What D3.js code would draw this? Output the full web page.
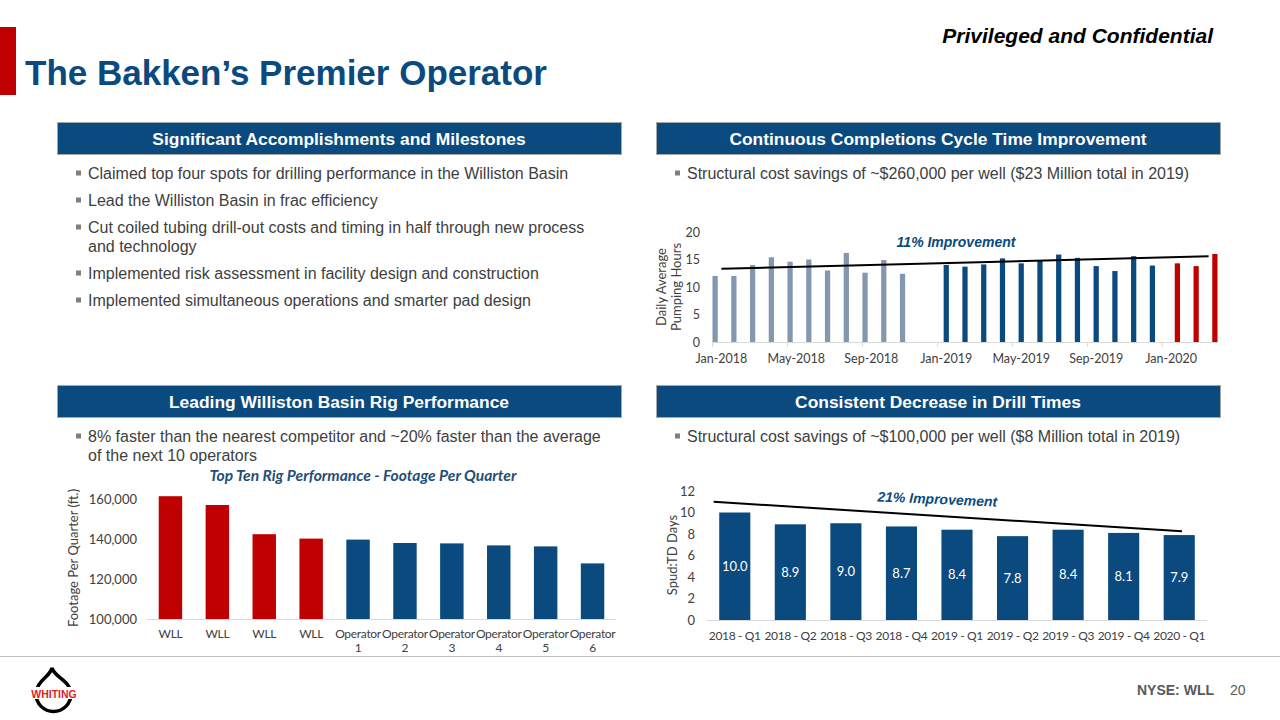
<!DOCTYPE html>
<html><head><meta charset="utf-8">
<script src="https://cdn.jsdelivr.net/npm/d3@7"></script>
<style>
body{margin:0;background:#fff;}
svg{display:block;}
</style></head>
<body>
<svg id="slide" width="1280" height="720"></svg>
<script>
// ---------------- DATA ----------------
const months = ["Jan-2018","Feb-2018","Mar-2018","Apr-2018","May-2018","Jun-2018","Jul-2018","Aug-2018","Sep-2018","Oct-2018","Nov-2018","Dec-2018",
  "Jan-2019","Feb-2019","Mar-2019","Apr-2019","May-2019","Jun-2019","Jul-2019","Aug-2019","Sep-2019","Oct-2019","Nov-2019","Dec-2019",
  "Jan-2020","Feb-2020","Mar-2020"];
const pumpSeries = ["2018","2019","2020"];
const pumpStart = ["Jan-2018","Jan-2019","Jan-2020"];
const pump2018 = [12.0,12.0,14.0,15.4,14.6,15.0,13.0,16.2,12.6,14.9,12.4];
const pump2019 = [14.0,13.7,14.1,15.2,14.3,14.9,15.9,15.3,13.8,12.9,15.6,13.9];
const pump2020 = [14.3,13.8,16.0];
const pumpTrend = [13.3,15.6];
const pumpTicks = [0,5,10,15,20];
const pumpTickLabels = ["Jan-2018","May-2018","Sep-2018","Jan-2019","May-2019","Sep-2019","Jan-2020"];

const rigLabels = ["WLL","WLL","WLL","WLL","Operator 1","Operator 2","Operator 3","Operator 4","Operator 5","Operator 6"];
const rigFootage = [161400,157000,142400,140200,139700,138000,137800,136800,136300,127800];
const rigTicks = [100000,120000,140000,160000];

const quarters = ["2018 - Q1","2018 - Q2","2018 - Q3","2018 - Q4","2019 - Q1","2019 - Q2","2019 - Q3","2019 - Q4","2020 - Q1"];
const drillDays = [10.0,8.9,9.0,8.7,8.4,7.8,8.4,8.1,7.9];
const drillTrendPos = [-0.38,8.05];
const drillTrend = [11.0,8.25];
const drillTicks = [0,2,4,6,8,10,12];

const bulletsTL = [["Claimed top four spots for drilling performance in the Williston Basin"],
  ["Lead the Williston Basin in frac efficiency"],
  ["Cut coiled tubing drill-out costs and timing in half through new process","and technology"],
  ["Implemented risk assessment in facility design and construction"],
  ["Implemented simultaneous operations and smarter pad design"]];
const bulletsTR = [["Structural cost savings of ~$260,000 per well ($23 Million total in 2019)"]];
const bulletsBL = [["8% faster than the nearest competitor and ~20% faster than the average","of the next 10 operators"]];
const bulletsBR = [["Structural cost savings of ~$100,000 per well ($8 Million total in 2019)"]];

// ---------------- STYLE ----------------
const NAVY = "#0b4a7e", RED = "#c00000", GRAY = "#8497b0";
const SANS = "'Liberation Sans', Arial, sans-serif";
const CAL = "Lato, 'Open Sans', sans-serif";
const svg = d3.select("#slide");

// ---------------- SLIDE FURNITURE ----------------
svg.append("rect").attr("x",0).attr("y",27).attr("width",16).attr("height",68).attr("fill",RED);
svg.append("text").attr("x",25).attr("y",85).text("The Bakken’s Premier Operator")
  .attr("font-family",SANS).attr("font-weight","bold").attr("font-size",35).attr("fill",NAVY);
svg.append("text").attr("x",1213).attr("y",43).attr("text-anchor","end").text("Privileged and Confidential")
  .attr("font-family",SANS).attr("font-weight","bold").attr("font-style","italic").attr("font-size",21).attr("fill","#000");

const headers = [
  {x:57,y:122,t:"Significant Accomplishments and Milestones"},
  {x:656,y:122,t:"Continuous Completions Cycle Time Improvement"},
  {x:57,y:385,t:"Leading Williston Basin Rig Performance"},
  {x:656,y:385,t:"Consistent Decrease in Drill Times"}];
headers.forEach(h=>{
  svg.append("rect").attr("x",h.x+0.5).attr("y",h.y+0.5).attr("width",564).attr("height",32)
    .attr("fill",NAVY).attr("stroke","#a6a6a6").attr("stroke-width",1);
  svg.append("text").attr("x",h.x+282).attr("y",h.y+22.5).attr("text-anchor","middle").text(h.t)
    .attr("font-family",SANS).attr("font-weight","bold").attr("font-size",17.4).attr("fill","#fff");
});

function bullets(list,x,y0){
  let y=y0;
  list.forEach(lines=>{
    svg.append("rect").attr("x",x-12).attr("y",y-8.5).attr("width",5).attr("height",5).attr("fill","#7f7f7f");
    lines.forEach((l,i)=>{
      svg.append("text").attr("x",x).attr("y",y).text(l).attr("font-family",SANS).attr("font-size",16).attr("fill","#404040");
      y += (i<lines.length-1)?19:27;
    });
  });
}
bullets(bulletsTL,88,179);
bullets(bulletsTR,687,179);
bullets(bulletsBL,88,442);
bullets(bulletsBR,687,442);

// footer
svg.append("line").attr("x1",0).attr("x2",1280).attr("y1",656.5).attr("y2",656.5).attr("stroke","#bfbfbf").attr("stroke-width",1);
svg.append("text").attr("x",1214).attr("y",695).attr("text-anchor","end").text("NYSE: WLL")
  .attr("font-family",SANS).attr("font-weight","bold").attr("font-size",14).attr("fill","#595959");
svg.append("text").attr("x",1230).attr("y",695).text("20")
  .attr("font-family",SANS).attr("font-size",14).attr("fill","#595959");
// logo
const logo = svg.append("g");
logo.append("path").attr("d","M52,668 C54,677 71,681 71,694 A17.5,17.5 0 0 1 36,694 C36,681 50,677 52,668 Z")
  .attr("fill","#fff").attr("stroke","#000").attr("stroke-width",3.5);
logo.append("rect").attr("x",30).attr("y",687).attr("width",48).attr("height",12).attr("fill","#fff");
logo.append("text").attr("x",54).attr("y",698).attr("text-anchor","middle").text("WHITING")
  .attr("font-family",SANS).attr("font-weight","bold").attr("font-size",10.5).attr("fill","#e31b23");

function styleAxis(g,size,ls){
  g.select(".domain").remove();
  g.selectAll("text").attr("font-family",CAL).attr("font-size",size).attr("fill","#404040")
    .attr("letter-spacing",ls||0);
}

// ---------------- CHART 1: pumping hours ----------------
{
  const x = d3.scaleBand().domain(months).range([712,1218]).paddingInner(0).paddingOuter(0);
  const xs = d3.scaleBand().domain(pumpSeries).range([0,x.bandwidth()]);
  const y = d3.scaleLinear().domain([0,20]).range([342,232]);
  const colors = d3.scaleOrdinal().domain(pumpSeries).range([GRAY,NAVY,RED]);
  const vals = [pump2018,pump2019,pump2020];
  const data = [];
  pumpSeries.forEach((s,si)=>{
    const st = months.indexOf(pumpStart[si]);
    vals[si].forEach((v,i)=>data.push({m:months[st+i],s,v}));
  });
  const g = svg.append("g");
  g.selectAll("rect.bar").data(data).join("rect").attr("class","bar")
    .attr("x",d=>x(d.m)+xs(d.s)+0.5).attr("width",xs.bandwidth()-1)
    .attr("y",d=>y(d.v)).attr("height",d=>y(0)-y(d.v)).attr("fill",d=>colors(d.s));
  g.append("line").attr("x1",712).attr("x2",1218).attr("y1",y(0)+0.5).attr("y2",y(0)+0.5).attr("stroke","#d9d9d9");
  g.selectAll("line.tk").data(pumpTickLabels).join("line").attr("class","tk")
    .attr("x1",d=>x(d)+0.5).attr("x2",d=>x(d)+0.5).attr("y1",y(0)).attr("y2",y(0)+5).attr("stroke","#d9d9d9");
  const ax = g.append("g").attr("transform",`translate(0,${y(0)})`)
    .call(d3.axisBottom(x).tickValues(pumpTickLabels).tickSize(0).tickPadding(12));
  styleAxis(ax,12.5);
  const ay = g.append("g").attr("transform","translate(700,0)")
    .call(d3.axisLeft(y).tickValues(pumpTicks).tickSize(0).tickPadding(0));
  styleAxis(ay,12.5);
  const xc = i=>x(months[i])+x.bandwidth()/2;
  g.append("line").attr("x1",xc(0)).attr("x2",xc(months.length-1)).attr("y1",y(pumpTrend[0])).attr("y2",y(pumpTrend[1]))
    .attr("stroke","#000").attr("stroke-width",2);
  g.append("text").attr("x",956).attr("y",247).attr("text-anchor","middle").text("11% Improvement")
    .attr("font-family",SANS).attr("font-weight","bold").attr("font-style","italic").attr("font-size",14).attr("fill",NAVY);
  g.append("text").attr("transform","translate(666,287) rotate(-90)").attr("text-anchor","middle")
    .attr("font-family",CAL).attr("font-size",13).attr("fill","#404040")
    .selectAll("tspan").data(["Daily Average","Pumping Hours"]).join("tspan")
    .attr("x",0).attr("dy",(d,i)=>i?14.5:0).text(d=>d);
}

// ---------------- CHART 2: rig performance ----------------
{
  const idx = d3.range(rigLabels.length);
  const x = d3.scaleBand().domain(idx).range([147,616]).paddingInner(0.5).paddingOuter(0.25);
  const y = d3.scaleLinear().domain([100000,170000]).range([619,479]);
  const g = svg.append("g");
  g.selectAll("rect").data(idx).join("rect")
    .attr("x",i=>x(i)).attr("width",x.bandwidth())
    .attr("y",i=>y(rigFootage[i])).attr("height",i=>y(100000)-y(rigFootage[i]))
    .attr("fill",i=>rigLabels[i]==="WLL"?RED:NAVY);
  g.append("line").attr("x1",147).attr("x2",616).attr("y1",619.5).attr("y2",619.5).attr("stroke","#d9d9d9");
  const ax = g.append("g").attr("transform","translate(0,619)")
    .call(d3.axisBottom(x).tickSize(0).tickPadding(10).tickFormat(()=>""));
  ax.select(".domain").remove();
  ax.selectAll(".tick text").each(function(i){
    const t = d3.select(this);
    rigLabels[i].split(" ").forEach((w,k)=>t.append("tspan").attr("x",0).attr("dy",k?"1.2em":"0.71em").text(w));
  }).attr("dy",null);
  styleAxis(ax,12,-0.3);
  const ay = g.append("g").attr("transform","translate(137,0)")
    .call(d3.axisLeft(y).tickValues(rigTicks).tickSize(0).tickPadding(0).tickFormat(d3.format(",")));
  styleAxis(ay,13);
  g.append("text").attr("transform","translate(78,558) rotate(-90)").attr("text-anchor","middle")
    .text("Footage Per Quarter (ft.)").attr("font-family",CAL).attr("font-size",13).attr("fill","#404040");
  g.append("text").attr("x",363).attr("y",481).attr("text-anchor","middle").text("Top Ten Rig Performance - Footage Per Quarter")
    .attr("font-family",CAL).attr("font-weight","bold").attr("font-style","italic").attr("font-size",15.6).attr("fill","#1f4e79");
}

// ---------------- CHART 3: drill times ----------------
{
  const x = d3.scaleBand().domain(quarters).range([707,1207]).paddingInner(0.44).paddingOuter(0.22);
  const y = d3.scaleLinear().domain([0,12]).range([620,491]);
  const g = svg.append("g");
  g.selectAll("rect").data(quarters).join("rect")
    .attr("x",q=>x(q)).attr("width",x.bandwidth())
    .attr("y",(q,i)=>y(drillDays[i])).attr("height",(q,i)=>y(0)-y(drillDays[i])).attr("fill",NAVY);
  g.selectAll("text.lbl").data(quarters).join("text").attr("class","lbl")
    .attr("x",q=>x(q)+x.bandwidth()/2).attr("y",(q,i)=>(y(drillDays[i])+y(0))/2+4.5)
    .attr("text-anchor","middle").text((q,i)=>d3.format(".1f")(drillDays[i]))
    .attr("font-family",CAL).attr("font-size",13).attr("fill","#fff");
  g.append("line").attr("x1",707).attr("x2",1207).attr("y1",620.5).attr("y2",620.5).attr("stroke","#d9d9d9");
  const ax = g.append("g").attr("transform","translate(0,620)")
    .call(d3.axisBottom(x).tickSize(0).tickPadding(11));
  styleAxis(ax,12,-0.35);
  const ay = g.append("g").attr("transform","translate(695,0)")
    .call(d3.axisLeft(y).tickValues(drillTicks).tickSize(0).tickPadding(0));
  styleAxis(ay,13);
  const xc = d3.scaleLinear().domain([0,quarters.length-1])
    .range([x(quarters[0])+x.bandwidth()/2, x(quarters[quarters.length-1])+x.bandwidth()/2]);
  g.append("line").attr("x1",xc(drillTrendPos[0])).attr("x2",xc(drillTrendPos[1]))
    .attr("y1",y(drillTrend[0])).attr("y2",y(drillTrend[1])).attr("stroke","#000").attr("stroke-width",2);
  g.append("text").attr("transform","translate(937,504) rotate(2.5)").attr("text-anchor","middle").text("21% Improvement")
    .attr("font-family",SANS).attr("font-weight","bold").attr("font-style","italic").attr("font-size",14).attr("fill",NAVY);
  g.append("text").attr("transform","translate(677,555) rotate(-90)").attr("text-anchor","middle")
    .text("Spud:TD Days").attr("font-family",CAL).attr("font-size",13).attr("fill","#404040");
}
</script>
</body></html>
